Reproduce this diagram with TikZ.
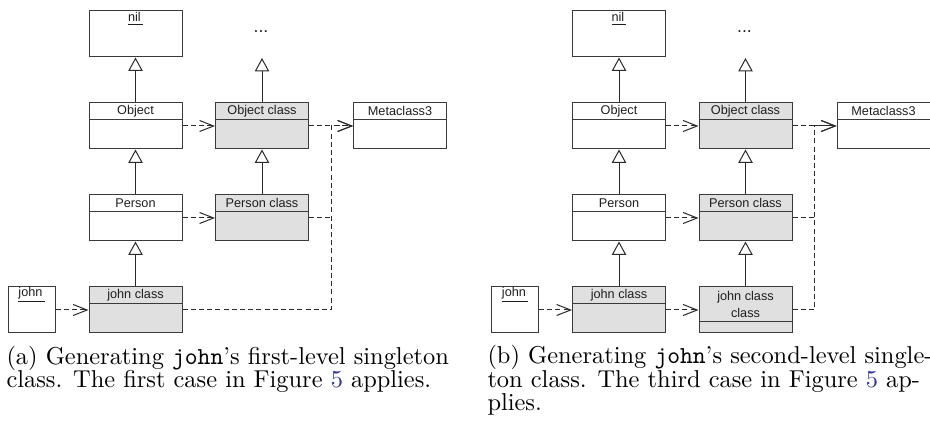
\documentclass[tikz,border=0pt]{standalone}
\usepackage{fontspec}
\newfontfamily\umlfont{Liberation Sans}
\newfontfamily\capfont[Ligatures=TeX]{lmroman10-regular.otf}
\newfontfamily\captt{lmmono10-regular.otf}
\usetikzlibrary{arrows.meta,calc}
\usepackage{xcolor}

\definecolor{BoxGray}{HTML}{3A3A3A}
\definecolor{LineGray}{HTML}{2A2A2A}
\definecolor{TextGray}{HTML}{1E1E1E}
\definecolor{FillGray}{HTML}{E0E0E0}
\definecolor{LinkBlue}{rgb}{0.2,0.2,0.6}

\begin{document}
\begin{tikzpicture}[
        %Environment config
        x=0.5pt, y=-0.5pt,
        font=\umlfont\fontsize{6.35}{8.15}\selectfont,
        line width=0.5pt,
        %Environment styles
        ClassCfg/.style={
            draw=BoxGray,
            minimum width=46.5pt,
            minimum height=23pt,
            inner sep=0pt
        },
        ObjCfg/.style={ClassCfg, minimum width=23.5pt},
        MetaFill/.style={fill=FillGray},
        Compart/.style={
            path picture={
                \draw[BoxGray, line width=0.5pt]
                    ([yshift=-#1]path picture bounding box.north west)
                    -- ([yshift=-#1]path picture bounding box.north east);
            }
        },
        Compart/.default=8.5pt,
        HeadLabel/.style={anchor=center, yshift=-4.25pt, inner sep=0pt, text=TextGray},
        Head/.style={label={[HeadLabel]north:#1}},
        Inherit/.style={draw=LineGray, -{Triangle[open, length=6.7pt, width=7.2pt]}},
        DependLine/.style={draw=LineGray, dash pattern=on 2.5pt off 1.6pt},
        Depend/.style={DependLine, -{Straight Barb[length=7pt, width=5.5pt]}},
        Caption/.style={font=\capfont\fontsize{12.2}{11.8}\selectfont, align=left, inner sep=0pt}
    ]
    \useasboundingbox (0,0) rectangle (930,426);

    %(a) first-level singleton
    \path
        (135.5,34) node[ClassCfg, Head=\underline{nil\,}] (NilA) {}
            ++(0,92) node[ClassCfg, Compart, Head=Object] (ObjA) {}
            ++(0,92) node[ClassCfg, Compart, Head=Person] (PersonA) {}
            ++(0,92) node[ClassCfg, Compart, MetaFill, Head=john class] (JohnClsA) {}
            ++(-104,0) node[ObjCfg, Head=\underline{john\,}] (JohnA) {}
        (261,32) node[text=TextGray, font=\umlfont\fontsize{8.8}{9}\selectfont] (DotsA) {...}
            ++(1,26) coordinate (DotsTipA)
            ++(0,68) node[ClassCfg, Compart, MetaFill, Head=Object class] (ObjClsA) {}
            ++(0,92) node[ClassCfg, Compart, MetaFill, Head=Person class] (PersonClsA) {}
        (400,126) node[ClassCfg, Compart, Head=Metaclass3] (MetaA) {}
        (331,126) coordinate (JuncA);

    \draw[Inherit] (ObjA) -- (NilA);
    \draw[Inherit] (PersonA) -- (ObjA);
    \draw[Inherit] (JohnClsA) -- (PersonA);
    \draw[Inherit] (ObjClsA) -- (DotsTipA);
    \draw[Inherit] (PersonClsA) -- (ObjClsA);

    \draw[Depend] (JohnA) -- (JohnClsA);
    \draw[Depend] (ObjA) -- (ObjClsA);
    \draw[Depend] (PersonA) -- (PersonClsA);
    \draw[Depend] (ObjClsA) -- (MetaA);
    \draw[DependLine] (PersonClsA) -- (PersonClsA -| JuncA);
    \draw[Depend] (JohnClsA) -| (JuncA) -- (MetaA);

    %(b) second-level singleton
    \path
        (619,34) node[ClassCfg, Head=\underline{nil\,}] (NilB) {}
            ++(0,92) node[ClassCfg, Compart, Head=Object] (ObjB) {}
            ++(0,92) node[ClassCfg, Compart, Head=Person] (PersonB) {}
            ++(0,92) node[ClassCfg, Compart, MetaFill, Head=john class] (JohnClsB) {}
            ++(-104,0) node[ObjCfg, Head=\underline{john\,}] (JohnB) {}
        (744.5,32) node[text=TextGray, font=\umlfont\fontsize{8.8}{9}\selectfont] (DotsB) {...}
            ++(1,26) coordinate (DotsTipB)
            ++(0,68) node[ClassCfg, Compart, MetaFill, Head=Object class] (ObjClsB) {}
            ++(0,92) node[ClassCfg, Compart, MetaFill, Head=Person class] (PersonClsB) {}
            ++(0,92) node[ClassCfg, Compart=17.35pt, MetaFill,
                label={[HeadLabel, yshift=-4.75pt, align=center]north:john class\\class}] (JohnCCB) {}
        (883.5,126) node[ClassCfg, Compart, Head=Metaclass3] (MetaB) {}
        (814.5,126) coordinate (JuncB);

    \draw[Inherit] (ObjB) -- (NilB);
    \draw[Inherit] (PersonB) -- (ObjB);
    \draw[Inherit] (JohnClsB) -- (PersonB);
    \draw[Inherit] (ObjClsB) -- (DotsTipB);
    \draw[Inherit] (PersonClsB) -- (ObjClsB);
    \draw[Inherit] (JohnCCB) -- (PersonClsB);

    \draw[Depend] (JohnB) -- (JohnClsB);
    \draw[Depend] (JohnClsB) -- (JohnCCB);
    \draw[Depend] (ObjB) -- (ObjClsB);
    \draw[Depend] (PersonB) -- (PersonClsB);
    \draw[Depend] (ObjClsB) -- (MetaB);
    \draw[DependLine] (PersonClsB) -- (PersonClsB -| JuncB);
    \draw[Depend] (JohnCCB) -| (JuncB) -- (MetaB);

    %captions (base = last line)
    \node[Caption, anchor=base west] (CapA) at (6,388)
        {(a) Generating {\captt john}'s first-level singleton\\
         class. The first case in Figure \textcolor{LinkBlue}{5} applies.};
    \node[Caption, anchor=base west] (CapB) at (487,411)
        {(b) Generating {\captt john}'s second-level single-\\
         ton class. The third case in Figure \textcolor{LinkBlue}{5} ap-\\
         plies.};
\end{tikzpicture}
\end{document}
